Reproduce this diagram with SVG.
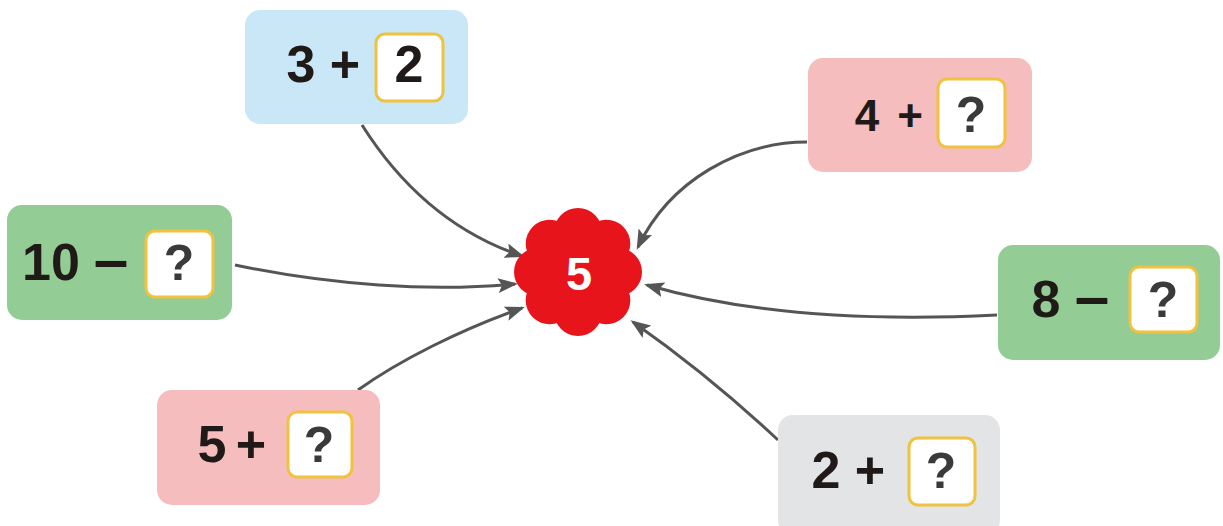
<svg xmlns="http://www.w3.org/2000/svg" width="1223" height="526" viewBox="0 0 1223 526">
<style>
.t{font-family:"Liberation Sans",Arial,sans-serif;font-weight:bold;font-size:52px;fill:#1f1a17;text-anchor:middle}
.q{font-family:"Liberation Sans",Arial,sans-serif;font-weight:bold;font-size:50px;fill:#3a3a3a;text-anchor:middle}
.d{font-size:62px}
.ans{fill:#ffffff;stroke:#f0c23e;stroke-width:3}
.conn{fill:none;stroke:#555555;stroke-width:3;marker-end:url(#arr)}
</style>
<defs>
<marker id="arr" markerUnits="userSpaceOnUse" markerWidth="20" markerHeight="15" refX="17" refY="7.5" orient="auto">
<path d="M0,0 L20,7.5 L0,15 L4,7.5 Z" fill="#555555"/>
</marker>
</defs>
<rect width="1223" height="526" fill="#ffffff"/>
<g id="connectors">
<path class="conn" d="M362,125 C400,185 450,232 522,256"/>
<path class="conn" d="M807,142 C740,142 670,180 638,247"/>
<path class="conn" d="M235,265 C330,285 430,292 515,284"/>
<path class="conn" d="M358,390 C400,360 460,330 522,308"/>
<path class="conn" d="M997,315 C860,322 740,312 647,285"/>
<path class="conn" d="M778,440 C730,395 680,355 633,322"/>
</g>
<g id="center">
<g fill="#e8141c">
<circle cx="578" cy="272" r="45"/>
<circle cx="578" cy="232" r="24"/>
<circle cx="606.3" cy="243.7" r="24"/>
<circle cx="618" cy="272" r="24"/>
<circle cx="606.3" cy="300.3" r="24"/>
<circle cx="578" cy="312" r="24"/>
<circle cx="549.7" cy="300.3" r="24"/>
<circle cx="538" cy="272" r="24"/>
<circle cx="549.7" cy="243.7" r="24"/>
</g>
<text x="579" y="290" font-family="Liberation Sans,Arial,sans-serif" font-weight="bold" font-size="47" fill="#ffffff" text-anchor="middle">5</text>
</g>
<g id="n1">
<rect x="245" y="10" width="223" height="114" rx="15" fill="#c9e7f6"/>
<rect class="ans" x="376" y="34" width="67" height="67" rx="9"/>
<text class="t" y="82"><tspan x="301">3</tspan><tspan x="345">+</tspan></text>
<text class="t" x="409" y="82">2</text>
</g>
<g id="n2">
<rect x="7" y="205" width="225" height="115" rx="15" fill="#93cc94"/>
<rect class="ans" x="146" y="231" width="67" height="66" rx="9"/>
<text class="t" y="280"><tspan x="51">10</tspan><tspan class="d" x="111">–</tspan></text>
<text class="q" x="179" y="280">?</text>
</g>
<g id="n3">
<rect x="157" y="390" width="223" height="115" rx="15" fill="#f5bdbd"/>
<rect class="ans" x="288" y="412" width="64" height="65" rx="9"/>
<text class="t" y="462"><tspan x="212">5</tspan><tspan x="251">+</tspan></text>
<text class="q" x="319" y="462">?</text>
</g>
<g id="n4">
<rect x="778" y="415" width="222" height="120" rx="15" fill="#e3e4e6"/>
<rect class="ans" x="909" y="438" width="66" height="67" rx="9"/>
<text class="t" y="488"><tspan x="826">2</tspan><tspan x="870">+</tspan></text>
<text class="q" x="941" y="488">?</text>
</g>
<g id="n5">
<rect x="808" y="58" width="224" height="114" rx="15" fill="#f5bdbd"/>
<rect class="ans" x="938" y="79" width="67" height="68" rx="9"/>
<text class="t" y="131" style="font-size:44px"><tspan x="867">4</tspan><tspan x="910">+</tspan></text>
<text class="q" x="971" y="132">?</text>
</g>
<g id="n6">
<rect x="998" y="245" width="222" height="115" rx="15" fill="#93cc94"/>
<rect class="ans" x="1130" y="267" width="67" height="65" rx="9"/>
<text class="t" y="317"><tspan x="1046">8</tspan><tspan class="d" x="1092">–</tspan></text>
<text class="q" x="1163" y="317">?</text>
</g>
</svg>
